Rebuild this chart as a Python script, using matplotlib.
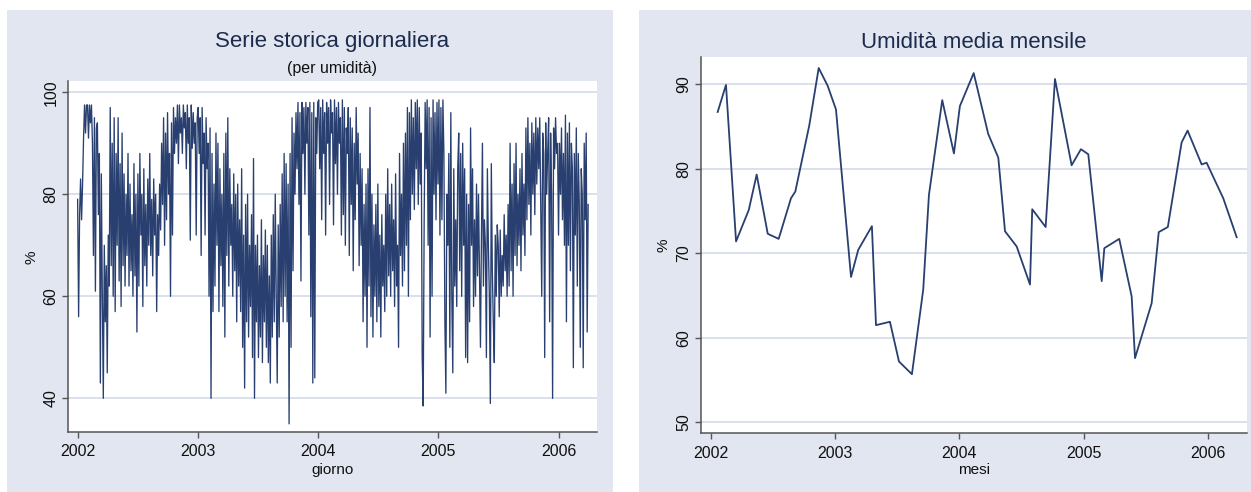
import matplotlib as mpl
mpl.use('Agg')
from matplotlib import pyplot as plt
from matplotlib.patches import Rectangle
import pandas as pd

plt.rcParams['font.family'] = ['Liberation Sans', 'DejaVu Sans']

# Daily relative humidity (%), one reading every third day from 1 Jan 2002
hum_2002 = [79, 56, 76, 83, 75, 82, 91, 97.5, 92, 97.5,
            97.5, 91, 97.5, 94, 97.5, 90, 68, 95, 61, 93,
            94, 76, 88, 43, 84, 60, 40, 70, 55, 66,
            45, 72, 62, 97, 66, 90, 60, 95, 57, 88,
            70, 95, 63, 86, 58, 92, 66, 84, 62, 80,
            68, 88, 62, 82, 65, 76, 60, 86, 64, 80,
            53, 84, 62, 88, 72, 80, 58, 85, 66, 78,
            62, 83, 70, 88, 68, 79, 64, 83, 72, 80,
            57, 76, 68, 82, 73, 90, 78, 95, 70, 92,
            75, 96, 80, 88, 60, 94, 72, 97, 88, 95,
            90, 97.5, 86, 97.5, 92, 95, 88, 97.5, 93, 96,
            85, 97.5, 90, 95, 71, 97.5, 89, 96, 90, 94,
            72, 95]
hum_2003 = [97, 88, 95, 68, 97, 86, 92, 72, 95, 85,
            90, 60, 93, 40, 88, 57, 82, 62, 92, 70,
            90, 57, 85, 66, 80, 58, 88, 52, 92, 68,
            95, 62, 85, 70, 78, 60, 84, 65, 80, 55,
            82, 62, 75, 57, 85, 50, 72, 42, 78, 55,
            80, 52, 70, 58, 76, 48, 87, 40, 70, 55,
            72, 48, 66, 52, 75, 47, 68, 55, 73, 50,
            70, 47, 64, 43, 72, 52, 76, 55, 80, 60,
            43, 74, 52, 78, 58, 84, 55, 88, 60, 86,
            55, 82, 35, 88, 50, 95, 65, 92, 80, 96,
            85, 98, 78, 96, 63, 98, 88, 97, 80, 98,
            90, 97, 72, 98, 56, 96, 43, 98, 44, 95,
            88, 98]
hum_2004 = [98.5, 85, 97, 75, 98.5, 88, 96, 72, 98, 90,
            97, 78, 98.5, 92, 96, 74, 98.5, 86, 97, 80,
            98, 90, 95, 72, 98.5, 76, 97, 70, 93, 88,
            97, 68, 95, 78, 93, 65, 90, 75, 97, 82,
            92, 66, 88, 70, 85, 55, 78, 60, 82, 50,
            85, 62, 97, 56, 80, 52, 74, 60, 78, 55,
            82, 58, 72, 52, 76, 62, 70, 57, 80, 60,
            85, 64, 78, 60, 82, 65, 75, 58, 84, 62,
            70, 50, 88, 68, 80, 62, 90, 65, 92, 70,
            97, 60, 96, 75, 98.5, 80, 95, 77, 98, 85,
            98.5, 78, 97, 82, 92, 48, 38.5, 75, 98, 85,
            98.5, 70, 97, 52, 95, 60, 98.5, 80, 96, 75,
            98, 82]
hum_2005 = [98.5, 72, 97, 75, 98.5, 88, 55, 41, 80, 70,
            88, 50, 96, 60, 45, 85, 62, 75, 58, 85,
            92, 65, 88, 60, 90, 70, 85, 48, 80, 47,
            78, 55, 93, 70, 85, 58, 75, 60, 82, 64,
            80, 65, 50, 72, 90, 62, 75, 70, 48, 85,
            70, 60, 39, 86, 65, 55, 47, 72, 60, 74,
            70, 56, 73, 60, 68, 62, 76, 65, 72, 60,
            78, 62, 90, 65, 82, 60, 86, 68, 90, 66,
            80, 70, 85, 65, 88, 72, 82, 68, 93, 75,
            95, 78, 90, 72, 94, 80, 92, 76, 95, 82,
            93, 85, 95, 78, 60, 92, 88, 48, 94, 80,
            88, 95, 55, 92, 80, 40, 93, 85, 95, 88,
            90, 72]
hum_2006 = [90, 80, 93, 75, 88, 70, 95.5, 55, 92, 70,
            94, 65, 90, 85, 46, 88, 72, 93, 62, 88,
            78, 50, 85, 80, 46, 90, 75, 92, 53, 78]

# Monthly mean humidity, plotted at the mean date of each month
month_pos = [2002.056, 2002.123, 2002.204, 2002.306, 2002.370, 2002.459,
             2002.547, 2002.646, 2002.681, 2002.793, 2002.869, 2002.941,
             2003.008, 2003.129, 2003.187, 2003.297, 2003.330, 2003.442,
             2003.515, 2003.619, 2003.710, 2003.756, 2003.863, 2003.957,
             2004.005, 2004.116, 2004.233, 2004.314, 2004.368, 2004.462,
             2004.569, 2004.587, 2004.695, 2004.770, 2004.904, 2004.979,
             2005.038, 2005.146, 2005.167, 2005.287, 2005.387, 2005.414,
             2005.548, 2005.605, 2005.678, 2005.789, 2005.837, 2005.950,
             2005.990, 2006.124, 2006.232]
hum_month = [86.7, 89.9, 71.4, 75.1, 79.3, 72.3, 71.7, 76.5, 77.3, 85.1, 91.9, 89.8,
             87.0, 67.2, 70.4, 73.2, 61.5, 61.9, 57.2, 55.7, 65.7, 76.9, 88.1, 81.8,
             87.4, 91.3, 84.1, 81.3, 72.6, 70.8, 66.3, 75.2, 73.1, 90.6, 80.4, 82.3,
             81.7, 66.7, 70.6, 71.7, 64.9, 57.6, 64.1, 72.5, 73.1, 83.1, 84.5, 80.5,
             80.7, 76.5, 71.9]

year_ticks = [2002, 2003, 2004, 2005, 2006]

BG = '#E1E6F0'
GRID = '#DAE0EE'
LINE = '#283F70'
TITLE = '#1C2B4D'

daily = hum_2002 + hum_2003 + hum_2004 + hum_2005 + hum_2006
days = pd.date_range('2002-01-01', periods=len(daily), freq='3D')
day_pos = days.year + (days.dayofyear - 1) / (365 + days.is_leap_year.astype(int))

W, H = 1251, 492
fig = plt.figure(figsize=(W / 100, H / 100), dpi=100)
fig.patch.set_facecolor('white')

def px(x0, y0, x1, y1):
    # pixel box (top-left origin) -> figure fraction rectangle
    return [x0 / W, 1 - y1 / H, (x1 - x0) / W, (y1 - y0) / H]

# panel backgrounds
for x0, x1 in [(7, 613), (639, 1251)]:
    fig.patches.append(Rectangle((x0 / W, 0), (x1 - x0) / W, 1 - 10 / H,
                                 transform=fig.transFigure, facecolor=BG,
                                 edgecolor='none', zorder=-5))

ax1 = fig.add_axes(px(68, 81, 597, 432))
ax2 = fig.add_axes(px(701, 57, 1247, 433))

ax1.plot(day_pos, daily, color=LINE, lw=0.95)
ax2.plot(month_pos, hum_month, color=LINE, lw=1.3)

ax1.set_xlim(2001.92, 2006.32)
ax1.set_ylim(33.4, 102.2)
ax1.set_yticks([40, 60, 80, 100])
ax2.set_xlim(2001.922, 2006.315)
ax2.set_ylim(48.75, 93.2)
ax2.set_yticks([50, 60, 70, 80, 90])

for ax in (ax1, ax2):
    ax.set_facecolor('white')
    ax.set_xticks(year_ticks)
    ax.set_xticklabels([str(y) for y in year_ticks])
    ax.grid(axis='y', color=GRID, lw=1.4)
    ax.set_axisbelow(True)
    for s in ('top', 'right'):
        ax.spines[s].set_visible(False)
    for s in ('left', 'bottom'):
        ax.spines[s].set_color('#555555')
        ax.spines[s].set_linewidth(1.1)
    ax.tick_params(axis='both', length=4, width=1, color='#555555',
                   labelsize=11.5, labelcolor='#111111')
    ax.tick_params(axis='x', pad=5)
    ax.tick_params(axis='y', pad=3)
    for lab in ax.get_yticklabels():
        lab.set_rotation(90)
        lab.set_va('center')

# titles and axis labels
fig.text(332.5 / W, 1 - 42 / H, 'Serie storica giornaliera', ha='center',
         va='center', fontsize=16, color=TITLE)
fig.text(332.5 / W, 1 - 69 / H, '(per umidità)', ha='center', va='center',
         fontsize=11.5, color='#111111')
fig.text(974 / W, 1 - 42 / H, 'Umidità media mensile', ha='center',
         va='center', fontsize=16, color=TITLE)

fig.text(332.5 / W, 1 - 470 / H, 'giorno', ha='center', va='center',
         fontsize=11, color='#111111')
fig.text(974 / W, 1 - 470 / H, 'mesi', ha='center', va='center',
         fontsize=11, color='#111111')
fig.text(32 / W, 1 - 257 / H, '%', ha='center', va='center', rotation=90,
         fontsize=11, color='#111111')
fig.text(664 / W, 1 - 245 / H, '%', ha='center', va='center', rotation=90,
         fontsize=11, color='#111111')

fig.savefig('out.png', dpi=100, facecolor=fig.get_facecolor())
